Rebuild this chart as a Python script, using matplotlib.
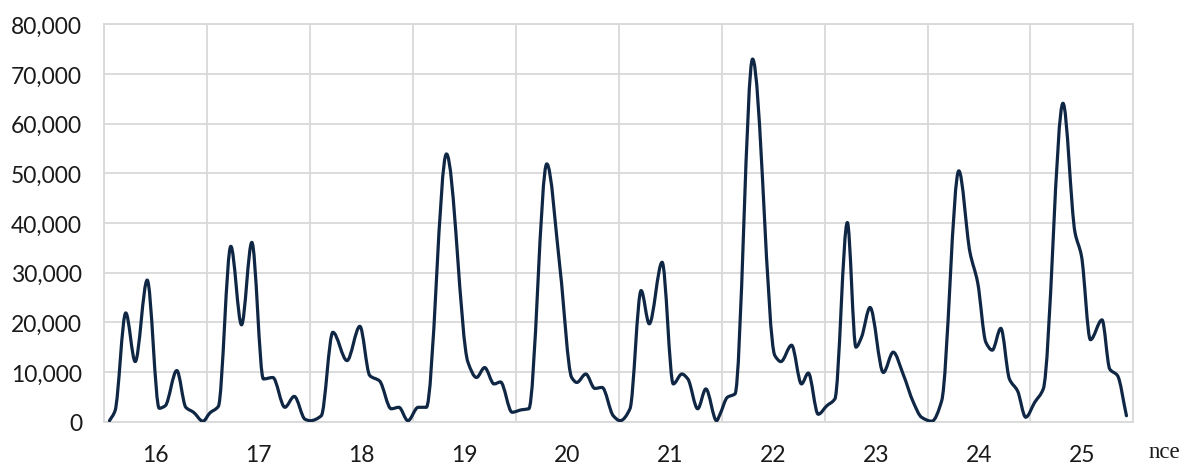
import matplotlib
matplotlib.use("Agg")
import matplotlib.pyplot as plt
from matplotlib.path import Path
from matplotlib.patches import PathPatch
from matplotlib.ticker import FuncFormatter, MultipleLocator
import numpy as np

# hours since the start of day 16, and the count read at each turning point
hours = [1.2, 2.5, 5.0, 7.2, 10.0, 12.8, 14.2, 16.9, 19.0, 20.8, 23.0,
         24.6, 26.6, 29.5, 32.0, 34.4, 37.1, 39.3, 42.1, 44.3, 46.8,
         48.0, 50.6, 53.3, 56.6, 59.6, 61.9, 64.2, 66.9, 68.7, 70.8,
         73.2, 75.1, 79.8, 84.8, 86.8, 88.7, 90.9, 92.4, 95.1,
         97.3, 99.0, 103.2, 106.3, 109.0, 110.2, 112.3, 114.4, 116.1, 118.7, 120.3,
         122.6, 125.2, 127.1, 130.1, 132.7, 134.7, 136.1, 138.4, 140.3, 142.8,
         143.6, 145.3, 147.1, 151.2, 156.4, 157.8, 160.3, 162.6, 164.2, 166.5,
         168.5, 170.4, 173.3, 175.3, 176.6, 178.6, 181.7, 184.0, 186.3, 188.7, 190.6,
         193.0, 195.3, 199.3, 201.9, 203.7, 205.6, 207.1, 209.1, 211.1, 213.0, 214.9,
         217.0, 219.0, 223.6, 226.4, 227.9, 230.0, 232.7, 234.5, 236.3, 238.4]
counts = [200, 2200, 21900, 12100, 28500, 2700, 3200, 10300, 2900, 1900, 100,
          1750, 3100, 35300, 19500, 36100, 8600, 8900, 2900, 5100, 500,
          200, 1200, 18000, 12300, 19200, 9300, 8200, 2600, 2900, 200,
          2900, 2900, 53900, 12000, 8900, 10900, 7600, 8000, 1900,
          2400, 2600, 51900, 30700, 8900, 7900, 9600, 6700, 6900, 1200, 200,
          2600, 26400, 19700, 32100, 7600, 9600, 8600, 2600, 6600, 200,
          1500, 4900, 5600, 73000, 13300, 12100, 15400, 7600, 9800, 1500,
          3200, 4600, 40100, 15000, 17000, 23000, 9900, 14000, 9600, 3900, 900,
          100, 4200, 50500, 34100, 28000, 16000, 14400, 18800, 8600, 6200, 900,
          3900, 6600, 64100, 38100, 33400, 16500, 20500, 10600, 9300, 1200]
day_labels = ["16", "17", "18", "19", "20", "21", "22", "23", "24", "25"]


def smooth_path(x, y):
    # monotone cubic (pchip style) drawn as bezier segments
    x = np.asarray(x, float)
    y = np.asarray(y, float)
    h = np.diff(x)
    d = np.diff(y) / h
    m = np.zeros_like(y)
    for i in range(1, len(y) - 1):
        if d[i - 1] * d[i] > 0:
            w1 = 2 * h[i] + h[i - 1]
            w2 = h[i] + 2 * h[i - 1]
            m[i] = (w1 + w2) / (w1 / d[i - 1] + w2 / d[i])
    m[0] = d[0]
    m[-1] = d[-1]
    verts = [(x[0], y[0])]
    codes = [Path.MOVETO]
    for i in range(len(x) - 1):
        verts.append((x[i] + h[i] / 3, y[i] + m[i] * h[i] / 3))
        verts.append((x[i + 1] - h[i] / 3, y[i + 1] - m[i + 1] * h[i] / 3))
        verts.append((x[i + 1], y[i + 1]))
        codes += [Path.CURVE4] * 3
    return Path(verts, codes)


plt.rcParams['font.family'] = ['Lato', 'DejaVu Sans']

fig = plt.figure(figsize=(11.83, 4.64), dpi=100)
ax = fig.add_axes([0.0882, 0.089, 0.8698, 0.8565])

patch = PathPatch(smooth_path(hours, counts), fill=False, edgecolor='#0f2744',
                  linewidth=2.3, capstyle='round', joinstyle='round', zorder=3)
ax.add_patch(patch)

ax.set_xlim(0, 24 * len(day_labels))
ax.set_ylim(0, 80000)

ax.xaxis.set_major_locator(MultipleLocator(24))
ax.set_xticks([12 + 24 * i for i in range(len(day_labels))], minor=True)
ax.set_xticklabels(day_labels, minor=True)
ax.tick_params(axis='x', which='major', labelbottom=False, length=0)
ax.tick_params(axis='x', which='minor', length=0, pad=16, labelsize=16.5,
               labelcolor='#1a1a1a')

ax.yaxis.set_major_locator(MultipleLocator(10000))
ax.yaxis.set_major_formatter(FuncFormatter(lambda v, _: f"{int(v):,}"))
ax.tick_params(axis='y', length=0, pad=16, labelsize=16.5, labelcolor='#1a1a1a')

ax.grid(True, which='major', color='#d9d9d9', linewidth=1.3)
ax.set_axisbelow(True)
for s in ax.spines.values():
    s.set_color('#d9d9d9')
    s.set_linewidth(1.3)

fig.text(1149 / 1183, 1 - 453 / 464, "nce", family='Liberation Serif',
         fontsize=16.5, color='#1a1a1a', va='center', ha='left')

fig.savefig('out.png', dpi=100)
